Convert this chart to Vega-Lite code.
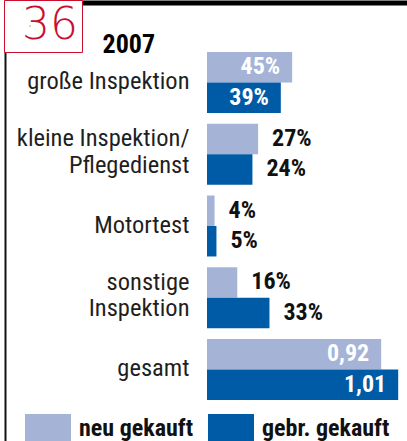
{
  "$schema": "https://vega.github.io/schema/vega-lite/v6.json",
  "autosize": {"type": "none"},
  "padding": {"left": 5, "top": 0, "right": 0, "bottom": 0},
  "width": 402,
  "height": 441,
  "background": "white",
  "data": {
    "values": [
      {"cat": "große Inspektion", "type": "neu gekauft", "value": 45, "label": "45%"},
      {"cat": "große Inspektion", "type": "gebr. gekauft", "value": 39, "label": "39%"},
      {"cat": "kleine Inspektion/\nPflegedienst", "type": "neu gekauft", "value": 27, "label": "27%"},
      {"cat": "kleine Inspektion/\nPflegedienst", "type": "gebr. gekauft", "value": 24, "label": "24%"},
      {"cat": "Motortest", "type": "neu gekauft", "value": 4, "label": "4%"},
      {"cat": "Motortest", "type": "gebr. gekauft", "value": 5, "label": "5%"},
      {"cat": "sonstige\nInspektion", "type": "neu gekauft", "value": 16, "label": "16%"},
      {"cat": "sonstige\nInspektion", "type": "gebr. gekauft", "value": 33, "label": "33%"},
      {"cat": "gesamt", "type": "neu gekauft", "value": 92, "label": "0,92"},
      {"cat": "gesamt", "type": "gebr. gekauft", "value": 101, "label": "1,01"}
    ]
  },
  "encoding": {
    "y": {
      "field": "cat",
      "type": "nominal",
      "sort": null,
      "scale": {"paddingInner": 0.15, "paddingOuter": 0.648, "align": 0.559},
      "axis": {
        "orient": "left",
        "title": "2007",
        "titleX": 97,
        "titleY": 52,
        "titleAngle": 0,
        "titleAlign": "left",
        "titleBaseline": "alphabetic",
        "titleFont": "Roboto Condensed",
        "titleFontSize": 26,
        "titleFontWeight": "bold",
        "titleColor": "#000000",
        "domain": true,
        "domainColor": "#111111",
        "domainWidth": 2,
        "ticks": false,
        "tickSize": 0,
        "grid": false,
        "labelAlign": "right",
        "labelBaseline": "middle",
        "labelPadding": -184,
        "labelOffset": {"condition": {"test": "indexof(datum.label, '\\n') >= 0", "value": -15}, "value": 0},
        "labelFont": "Roboto Condensed",
        "labelFontSize": 24.5,
        "labelColor": "#1f1f1f",
        "labelLimit": 400,
        "labelLineHeight": 26.5,
        "labelExpr": "split(datum.label, '\\n')"
      }
    },
    "yOffset": {
      "field": "type",
      "type": "nominal",
      "sort": ["neu gekauft", "gebr. gekauft"],
      "scale": {"paddingInner": 0, "paddingOuter": 0}
    },
    "x": {
      "field": "value",
      "type": "quantitative",
      "stack": null,
      "scale": {"domain": [-106.7, 105.65], "nice": false, "zero": false},
      "axis": {
        "orient": "top",
        "title": null,
        "offset": -2.5,
        "domain": true,
        "domainColor": "#000000",
        "domainWidth": 5,
        "labels": false,
        "ticks": false,
        "grid": false
      }
    }
  },
  "layer": [
    {
      "mark": {"type": "bar"},
      "encoding": {
        "x2": {"datum": 0},
        "color": {
          "field": "type",
          "type": "nominal",
          "sort": ["neu gekauft", "gebr. gekauft"],
          "scale": {"domain": ["neu gekauft", "gebr. gekauft"], "range": ["#a5b4d6", "#005ba6"]},
          "legend": {
            "orient": "none",
            "legendX": 20,
            "legendY": 406,
            "direction": "horizontal",
            "title": null,
            "symbolType": "M-1,-0.652H1V0.652H-1Z",
            "symbolSize": 2116,
            "symbolStrokeWidth": 0,
            "symbolOpacity": 1,
            "labelFont": "Roboto Condensed",
            "labelFontSize": 24,
            "labelFontWeight": "bold",
            "labelColor": "#111111",
            "labelOffset": 8,
            "labelLimit": 300,
            "columnPadding": 15,
            "padding": 0
          }
        }
      }
    },
    {
      "transform": [{"filter": "datum.value > 35"}],
      "mark": {
        "type": "text",
        "align": "right",
        "baseline": "middle",
        "dx": -12,
        "font": "Roboto Condensed",
        "fontSize": 24,
        "fontWeight": "bold",
        "color": "#ffffff"
      },
      "encoding": {"text": {"field": "label"}}
    },
    {
      "transform": [{"filter": "datum.value <= 35"}],
      "mark": {
        "type": "text",
        "align": "left",
        "baseline": "middle",
        "dx": 14,
        "font": "Roboto Condensed",
        "fontSize": 24,
        "fontWeight": "bold",
        "color": "#111111"
      },
      "encoding": {
        "text": {"field": "label"},
        "opacity": {
          "datum": "36",
          "type": "nominal",
          "scale": {"range": [1, 1]},
          "legend": {
            "orient": "none",
            "legendX": -1,
            "legendY": 0,
            "title": null,
            "strokeColor": "#c8102e",
            "fillColor": "#ffffff",
            "padding": 4,
            "symbolSize": 1,
            "symbolOpacity": 0,
            "symbolFillColor": "transparent",
            "symbolStrokeColor": "transparent",
            "symbolStrokeWidth": 0,
            "labelOffset": -30,
            "labelFont": "DejaVu Sans",
            "labelFontWeight": 200,
            "labelFontSize": 44,
            "labelColor": "#c8102e"
          }
        }
      }
    }
  ],
  "config": {"view": {"stroke": null}}
}
